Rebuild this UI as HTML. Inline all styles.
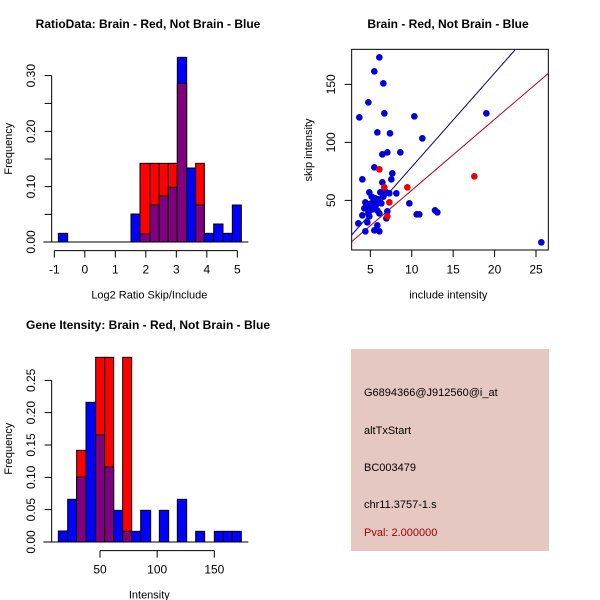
<!DOCTYPE html>
<html><head><meta charset="utf-8"><style>
html,body{margin:0;padding:0;background:#fff}
svg{display:block}
text{font-family:"Liberation Sans",sans-serif;fill:#000}
</style></head><body>
<svg width="600" height="600" viewBox="0 0 600 600" xmlns="http://www.w3.org/2000/svg">
<rect width="600" height="600" fill="#fff"/>
<text x="148" y="28" font-size="12" font-weight="bold" text-anchor="middle">RatioData: Brain - Red, Not Brain - Blue</text>
<text x="448" y="28" font-size="12" font-weight="bold" text-anchor="middle">Brain - Red, Not Brain - Blue</text>
<text x="148" y="329" font-size="12" font-weight="bold" text-anchor="middle">Gene Itensity: Brain - Red, Not Brain - Blue</text>

<!-- Panel 1 -->
<g transform="translate(0,40) scale(0.33333)" stroke="#000" stroke-width="3">
<g>
<rect x="175" y="580" width="28" height="26" fill="#0000ff"/>
<rect x="393" y="522" width="27" height="84" fill="#0000ff"/>
<rect x="420" y="370" width="30" height="236" fill="#ff0000"/>
<rect x="420" y="582" width="30" height="24" fill="#800080"/>
<rect x="450" y="370" width="28" height="236" fill="#ff0000"/>
<rect x="450" y="495" width="28" height="111" fill="#800080"/>
<rect x="478" y="370" width="27" height="236" fill="#ff0000"/>
<rect x="478" y="468" width="27" height="138" fill="#800080"/>
<rect x="505" y="370" width="27" height="236" fill="#ff0000"/>
<rect x="505" y="442" width="27" height="164" fill="#800080"/>
<rect x="532" y="52" width="28" height="554" fill="#0000ff"/>
<rect x="532" y="130" width="28" height="476" fill="#800080"/>
<rect x="560" y="384" width="27" height="222" fill="#0000ff"/>
<rect x="587" y="370" width="26" height="236" fill="#ff0000"/>
<rect x="587" y="495" width="26" height="111" fill="#800080"/>
<rect x="613" y="580" width="28" height="26" fill="#0000ff"/>
<rect x="641" y="552" width="28" height="54" fill="#0000ff"/>
<rect x="669" y="580" width="28" height="26" fill="#0000ff"/>
<rect x="697" y="495" width="27" height="111" fill="#0000ff"/>
<line x1="130" y1="606" x2="745" y2="606"/>
</g>
<path d="M155 107V606 M155 107h-21 M155 190h-21 M155 274h-21 M155 357h-21 M155 440h-21 M155 523h-21 M155 606h-21" fill="none"/>
<path d="M163 632H712 M163 632v21 M254.5 632v21 M346 632v21 M437.5 632v21 M529 632v21 M620.5 632v21 M712 632v21" fill="none"/>
<g stroke="none" font-size="36" text-anchor="middle">
<text x="163" y="700">-1</text><text x="254.5" y="700">0</text><text x="346" y="700">1</text><text x="437.5" y="700">2</text><text x="529" y="700">3</text><text x="620.5" y="700">4</text><text x="712" y="700">5</text>
<text transform="translate(105,606) rotate(-90)">0.00</text>
<text transform="translate(105,440) rotate(-90)">0.10</text>
<text transform="translate(105,274) rotate(-90)">0.20</text>
<text transform="translate(105,107) rotate(-90)">0.30</text>
<text font-size="33" transform="translate(36,326) rotate(-90)">Frequency</text>
<text font-size="33" x="448" y="775">Log2 Ratio Skip/Include</text>
</g>
</g>

<!-- Panel 3 -->
<g transform="translate(0,340) scale(0.33333)" stroke="#000" stroke-width="3">
<rect x="175" y="573" width="28" height="33" fill="#0000ff"/>
<rect x="203" y="478" width="27" height="128" fill="#0000ff"/>
<rect x="230" y="331" width="28" height="275" fill="#ff0000"/>
<rect x="230" y="411" width="28" height="195" fill="#800080"/>
<rect x="258" y="187" width="29" height="419" fill="#0000ff"/>
<rect x="287" y="52" width="27" height="554" fill="#ff0000"/>
<rect x="287" y="284" width="27" height="322" fill="#800080"/>
<rect x="314" y="52" width="27" height="554" fill="#ff0000"/>
<rect x="314" y="381" width="27" height="225" fill="#800080"/>
<rect x="341" y="511" width="27" height="95" fill="#0000ff"/>
<rect x="368" y="52" width="27" height="554" fill="#ff0000"/>
<rect x="368" y="574" width="27" height="32" fill="#800080"/>
<rect x="395" y="574" width="27" height="32" fill="#0000ff"/>
<rect x="422" y="511" width="30" height="95" fill="#0000ff"/>
<rect x="478" y="511" width="28" height="95" fill="#0000ff"/>
<rect x="532" y="478" width="28" height="128" fill="#0000ff"/>
<rect x="587" y="574" width="27" height="32" fill="#0000ff"/>
<rect x="643" y="574" width="27" height="32" fill="#0000ff"/>
<rect x="670" y="574" width="27" height="32" fill="#0000ff"/>
<rect x="697" y="574" width="27" height="32" fill="#0000ff"/>
<line x1="130" y1="606" x2="745" y2="606"/>
<path d="M155 121V606 M155 121h-21 M155 218h-21 M155 315h-21 M155 412h-21 M155 509h-21 M155 606h-21" fill="none"/>
<path d="M300 632H643 M300 632v21 M471.5 632v21 M643 632v21" fill="none"/>
<g stroke="none" font-size="36" text-anchor="middle">
<text x="300" y="700">50</text><text x="471.5" y="700">100</text><text x="643" y="700">150</text>
<text transform="translate(105,606) rotate(-90)">0.00</text>
<text transform="translate(105,509) rotate(-90)">0.05</text>
<text transform="translate(105,412) rotate(-90)">0.10</text>
<text transform="translate(105,315) rotate(-90)">0.15</text>
<text transform="translate(105,218) rotate(-90)">0.20</text>
<text transform="translate(105,121) rotate(-90)">0.25</text>
<text font-size="33" transform="translate(36,326) rotate(-90)">Frequency</text>
<text font-size="33" x="448" y="775">Intensity</text>
</g>
</g>

<!-- Panel 2 -->
<g transform="translate(300,40) scale(0.33333)" stroke="#000" stroke-width="3">
<line x1="155" y1="585" x2="645" y2="30" stroke="#00008b" stroke-width="3"/>
<line x1="155" y1="605" x2="745" y2="100" stroke="#b00020" stroke-width="3"/>
<g stroke="none" fill="#0000dd">
<circle cx="238" cy="52" r="10"/><circle cx="223" cy="94" r="10"/><circle cx="250" cy="130" r="10"/><circle cx="205" cy="187" r="10"/><circle cx="178" cy="232" r="10"/><circle cx="253" cy="220" r="10"/><circle cx="343" cy="229" r="10"/><circle cx="559" cy="220" r="10"/><circle cx="232" cy="277" r="10"/><circle cx="270" cy="280" r="10"/><circle cx="367" cy="295" r="10"/><circle cx="262" cy="337" r="10"/><circle cx="247" cy="343" r="10"/><circle cx="301" cy="337" r="10"/><circle cx="223" cy="382" r="10"/><circle cx="277" cy="400" r="10"/><circle cx="187" cy="418" r="10"/><circle cx="274" cy="418" r="10"/><circle cx="247" cy="427" r="10"/><circle cx="208" cy="457" r="10"/><circle cx="241" cy="457" r="10"/><circle cx="250" cy="462" r="10"/><circle cx="259" cy="457" r="10"/><circle cx="268" cy="460" r="10"/><circle cx="289" cy="460" r="10"/><circle cx="226" cy="475" r="10"/><circle cx="235" cy="478" r="10"/><circle cx="220" cy="487" r="10"/><circle cx="214" cy="490" r="10"/><circle cx="196" cy="487" r="10"/><circle cx="205" cy="493" r="10"/><circle cx="229" cy="493" r="10"/><circle cx="199" cy="502" r="10"/><circle cx="211" cy="505" r="10"/><circle cx="193" cy="505" r="10"/><circle cx="217" cy="508" r="10"/><circle cx="187" cy="526" r="10"/><circle cx="205" cy="520" r="10"/><circle cx="208" cy="529" r="10"/><circle cx="238" cy="520" r="10"/><circle cx="262" cy="514" r="10"/><circle cx="259" cy="535" r="10"/><circle cx="328" cy="490" r="10"/><circle cx="405" cy="511" r="10"/><circle cx="412" cy="517" r="10"/><circle cx="350" cy="523" r="10"/><circle cx="358" cy="523" r="10"/><circle cx="175" cy="550" r="10"/><circle cx="202" cy="547" r="10"/><circle cx="232" cy="556" r="10"/><circle cx="196" cy="574" r="10"/><circle cx="223" cy="571" r="10"/><circle cx="238" cy="574" r="10"/><circle cx="724" cy="607" r="10"/><circle cx="232" cy="512" r="10"/><circle cx="244" cy="490" r="10"/><circle cx="226" cy="499" r="10"/><circle cx="250" cy="470" r="10"/><circle cx="215" cy="470" r="10"/>
</g>
<g stroke="none" fill="#ee0000">
<circle cx="238" cy="388" r="10"/><circle cx="253" cy="442" r="10"/><circle cx="322" cy="442" r="10"/><circle cx="268" cy="487" r="10"/><circle cx="262" cy="529" r="10"/><circle cx="523" cy="409" r="10"/>
</g>
<rect x="155" y="28" width="590" height="602" fill="none"/>
<path d="M211 630v21 M335.25 630v21 M459.5 630v21 M583.75 630v21 M708 630v21 M155 481h-21 M155 307h-21 M155 133h-21" fill="none"/>
<g stroke="none" font-size="36" text-anchor="middle">
<text x="211" y="700">5</text><text x="335.25" y="700">10</text><text x="459.5" y="700">15</text><text x="583.75" y="700">20</text><text x="708" y="700">25</text>
<text transform="translate(105,481) rotate(-90)">50</text>
<text transform="translate(105,307) rotate(-90)">100</text>
<text transform="translate(105,133) rotate(-90)">150</text>
<text font-size="33" transform="translate(36,330) rotate(-90)">skip intensity</text>
<text font-size="33" x="445" y="775">include intensity</text>
</g>
</g>

<!-- Text box -->
<rect x="351" y="349" width="198" height="202" fill="#e6c8c2"/>
<g font-size="11">
<text x="364" y="396">G6894366@J912560@i_at</text>
<text x="364" y="434">altTxStart</text>
<text x="364" y="471">BC003479</text>
<text x="364" y="508">chr11.3757-1.s</text>
<text x="364" y="536" style="fill:#a00000">Pval: 2.000000</text>
</g>
</svg>
</body></html>
